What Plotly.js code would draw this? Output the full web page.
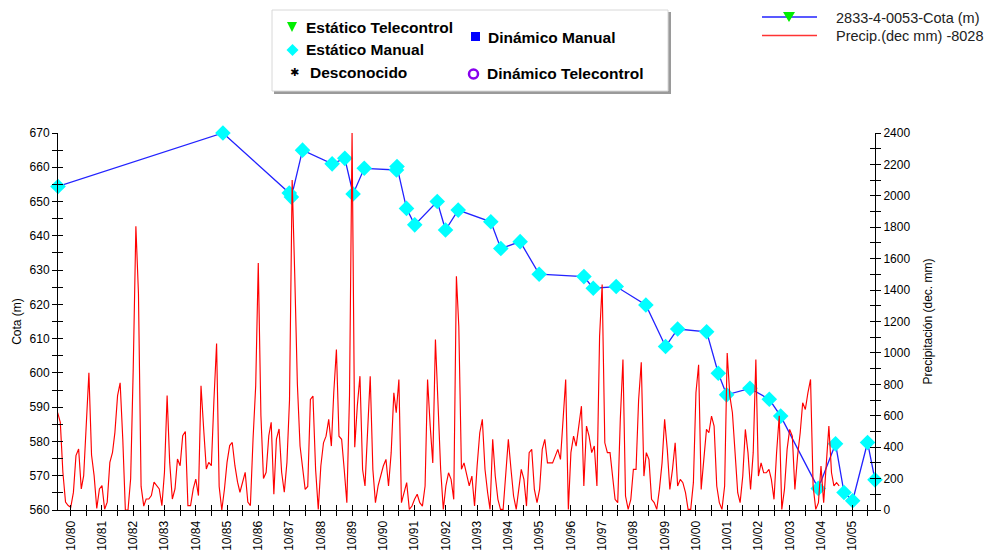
<!DOCTYPE html>
<html>
<head>
<meta charset="utf-8">
<script src="https://cdn.plot.ly/plotly-3.0.1.min.js"></script>
<style>
  html, body { margin: 0; padding: 0; background: #ffffff; }
  #chart { width: 989px; height: 554px; }
</style>
</head>
<body>
<div id="chart"></div>
<script>
// Piezometric level of well 2833-4-0053 (m) — manual static readings
const cotaDates = [
  '1980-05-05', '1985-08-14', '1987-09-28', '1987-10-23', '1988-03-01',
  '1989-02-10', '1989-07-08', '1989-10-13', '1990-02-20', '1991-03-04',
  '1991-03-10', '1991-06-29', '1991-10-03', '1992-06-22', '1992-09-27',
  '1993-02-22', '1994-03-10', '1994-07-05', '1995-02-16', '1995-09-26',
  '1997-03-02', '1997-06-19', '1998-03-14', '1999-02-24', '1999-10-12',
  '2000-03-01', '2001-02-03', '2001-06-19', '2001-09-24', '2002-06-24',
  '2003-02-05', '2003-06-18', '2004-08-30', '2005-03-20', '2005-06-27',
  '2005-10-06', '2006-03-29', '2006-06-24'
];
const cotaValues = [
  654.4, 670.0, 652.5, 651.3, 665.0,
  661.0, 662.6, 652.2, 659.7, 659.2,
  660.2, 648.0, 643.2, 650.0, 641.7,
  647.5, 644.1, 636.3, 638.3, 628.8,
  628.1, 624.7, 625.2, 619.8, 607.7,
  612.8, 612.0, 599.9, 593.6, 595.5,
  592.3, 587.4, 566.3, 579.3, 565.1,
  562.7, 579.7, 568.8
];

// Monthly precipitation at station 8028 (tenths of mm), starting May 1980
const precipStartYear = 1980;
const precipStartMonth = 5;
const precipValues = [
  620, 558, 240, 50, 28, 17, 112, 346, 388, 134,
  219, 537, 873, 350, 219, 10, 134, 155, 5, 50,
  303, 367, 494, 728, 810, 450, 0, 0, 200, 900,
  1806, 1380, 150, 25, 70, 70, 92, 177, 155, 134,
  28, 240, 728, 303, 70, 134, 325, 282, 473, 500,
  28, 28, 134, 197, 92, 791, 516, 261, 303, 282,
  700, 1060, 150, 0, 134, 303, 410, 430, 282, 177,
  113, 177, 240, 50, 28, 452, 790, 1573, 600, 200,
  240, 473, 558, 100, 452, 516, 240, 113, 303, 700,
  2100, 1500, 800, 407, 258, 131, 150, 704, 725, 258,
  4, 280, 428, 470, 577, 407, 746, 1022, 470, 450,
  259, 47, 725, 2400, 400, 661, 852, 258, 153, 534,
  852, 258, 47, 153, 216, 280, 322, 153, 365, 746,
  619, 831, 47, 110, 174, 4, 25, 68, 100, 47,
  25, 153, 831, 534, 300, 1085, 661, 259, 4, 153,
  237, 195, 68, 1488, 1170, 259, 300, 216, 153, 216,
  25, 280, 492, 577, 259, 110, 4, 450, 216, 68,
  4, 4, 259, 450, 259, 89, 4, 131, 259, 195,
  25, 365, 386, 131, 47, 131, 386, 450, 300, 300,
  300, 343, 386, 322, 577, 831, 4, 365, 470, 407,
  534, 661, 153, 534, 470, 365, 407, 153, 1107, 1435,
  428, 365, 365, 195, 68, 47, 577, 958, 89, 4,
  68, 259, 259, 700, 940, 216, 365, 322, 68, 47,
  4, 131, 300, 577, 386, 131, 259, 428, 153, 195,
  174, 110, 4, 4, 174, 746, 925, 131, 300, 513,
  492, 598, 534, 153, 47, 4, 153, 1000, 725, 619,
  365, 110, 47, 216, 513, 365, 131, 365, 958, 216,
  300, 237, 237, 259, 195, 68, 365, 600, 4, 131,
  386, 513, 470, 131, 343, 492, 683, 640, 746, 831,
  153, 4, 47, 280, 47, 259, 534, 237, 153, 174, 153
];

// Month stamps for the precipitation series
const precipDates = precipValues.map((_, i) => {
  const k = precipStartMonth - 1 + i;
  const y = precipStartYear + Math.floor(k / 12);
  const m = (k % 12) + 1;
  return y + '-' + String(m).padStart(2, '0') + '-01';
});

const FONT = '"Liberation Sans", Arial, sans-serif';
const xRange = [cotaDates[0], cotaDates[cotaDates.length - 1]];

// Plot-area geometry helpers for legend decorations (pixels -> paper)
const M = { l: 58, r: 114, t: 133, b: 44 };
const PW = 989 - M.l - M.r, PH = 554 - M.t - M.b;
const px = x => (x - M.l) / PW;
const py = y => (554 - M.b - y) / PH;

const traces = [
  {
    type: 'scatter', mode: 'lines', name: 'Precip.(dec mm) -8028',
    x: precipDates, y: precipValues, xaxis: 'x', yaxis: 'y2',
    line: { color: '#ff0000', width: 1.15 }, showlegend: false, hoverinfo: 'skip'
  },
  {
    type: 'scatter', mode: 'lines+markers', name: '2833-4-0053-Cota (m)',
    x: cotaDates, y: cotaValues, xaxis: 'x', yaxis: 'y',
    line: { color: '#2222ff', width: 1.3 },
    marker: { symbol: 'diamond', size: 12, color: '#00ffff', line: { width: 0 } },
    showlegend: false, cliponaxis: false
  },
  // carriers for the inner half of the crossing tick marks
  { type: 'scatter', x: [], y: [], xaxis: 'x2', yaxis: 'y3', showlegend: false, hoverinfo: 'skip' },
  { type: 'scatter', x: [], y: [], xaxis: 'x2', yaxis: 'y4', showlegend: false, hoverinfo: 'skip' }
];

const tickCommon = {
  showgrid: false, zeroline: false, tickcolor: '#000', ticklen: 5, tickwidth: 1,
  tickfont: { family: FONT, size: 12, color: '#000' }
};

// Legend decorations
const shapes = [
  // symbol box with dropped shadow
  { type: 'rect', xref: 'paper', yref: 'paper', x0: px(274), x1: px(671), y0: py(12), y1: py(94),
    fillcolor: '#9a9a9a', line: { width: 0 }, layer: 'above' },
  { type: 'rect', xref: 'paper', yref: 'paper', x0: px(272), x1: px(668), y0: py(10), y1: py(91),
    fillcolor: '#ffffff', line: { color: '#d8d8d8', width: 1 }, layer: 'above' },
  // Estático Telecontrol: green down triangle
  { type: 'path', xref: 'paper', yref: 'paper', layer: 'above',
    path: `M ${px(287)} ${py(22)} L ${px(297)} ${py(22)} L ${px(292)} ${py(32)} Z`,
    fillcolor: '#00ee00', line: { width: 0 } },
  // Estático Manual: cyan diamond
  { type: 'path', xref: 'paper', yref: 'paper', layer: 'above',
    path: `M ${px(292.5)} ${py(44)} L ${px(298.5)} ${py(50)} L ${px(292.5)} ${py(56)} L ${px(286.5)} ${py(50)} Z`,
    fillcolor: '#00ffff', line: { width: 0 } },
  // Dinámico Manual: blue square
  { type: 'rect', xref: 'paper', yref: 'paper', layer: 'above',
    x0: px(471), x1: px(480), y0: py(32), y1: py(41), fillcolor: '#0000ff', line: { width: 0 } },
  // Dinámico Telecontrol: purple ring
  { type: 'circle', xref: 'paper', yref: 'paper', layer: 'above',
    x0: px(469), x1: px(478), y0: py(69.5), y1: py(78.5), fillcolor: 'rgba(0,0,0,0)',
    line: { color: '#8800ee', width: 2.5 } },
  // series legend: level line with triangle marker
  { type: 'line', xref: 'paper', yref: 'paper', layer: 'above',
    x0: px(762), x1: px(817), y0: py(17), y1: py(17), line: { color: '#2222ff', width: 1.3 } },
  { type: 'path', xref: 'paper', yref: 'paper', layer: 'above',
    path: `M ${px(783)} ${py(12)} L ${px(795)} ${py(12)} L ${px(789)} ${py(22)} Z`,
    fillcolor: '#00ee00', line: { width: 0 } },
  // series legend: precipitation line
  { type: 'line', xref: 'paper', yref: 'paper', layer: 'above',
    x0: px(762), x1: px(817), y0: py(35.5), y1: py(35.5), line: { color: '#ff3333', width: 1.3 } }
];

const legendFont = { family: FONT, size: 15.5, color: '#000', weight: 'bold' };
const ann = (x, y, text, font, anchor) => ({
  xref: 'paper', yref: 'paper', x: px(x), y: py(y), text: text, showarrow: false,
  xanchor: anchor || 'left', yanchor: 'middle', font: font, borderpad: 0
});

const annotations = [
  ann(305, 27, '<b>Estático Telecontrol</b>', legendFont),
  ann(305, 50, '<b>Estático Manual</b>', legendFont),
  ann(294, 72, '✱', { family: '"DejaVu Sans", sans-serif', size: 11, color: '#000' }, 'center'),
  ann(309, 72, '<b>Desconocido</b>', legendFont),
  ann(487, 37, '<b>Dinámico Manual</b>', legendFont),
  ann(486, 74, '<b>Dinámico Telecontrol</b>', legendFont),
  ann(835, 17.5, '2833-4-0053-Cota (m)', { family: FONT, size: 14.5, color: '#222' }),
  ann(835, 36.5, 'Precip.(dec mm) -8028', { family: FONT, size: 14.5, color: '#222' })
];

const layout = {
  width: 989, height: 554,
  margin: M,
  paper_bgcolor: '#ffffff', plot_bgcolor: '#ffffff',
  showlegend: false,
  font: { family: FONT, size: 12, color: '#000' },
  xaxis: Object.assign({}, tickCommon, {
    type: 'date', range: xRange, anchor: 'y',
    showline: true, linecolor: '#000', linewidth: 1,
    ticks: 'outside', tick0: '1980-10-01', dtick: 'M12', tickformat: '%m/%y', tickangle: -90,
    minor: { ticks: 'outside', tick0: '1980-04-01', dtick: 'M6', ticklen: 5, tickcolor: '#000' }
  }),
  xaxis2: Object.assign({}, tickCommon, {
    type: 'date', range: xRange, overlaying: 'x', anchor: 'y', side: 'bottom',
    showline: false, showticklabels: false,
    ticks: 'inside', tick0: '1980-04-01', dtick: 'M6'
  }),
  yaxis: Object.assign({}, tickCommon, {
    range: [560, 670], anchor: 'x', side: 'left',
    showline: true, linecolor: '#000', linewidth: 1,
    ticks: 'outside', tick0: 560, dtick: 10,
    minor: { ticks: 'outside', dtick: 5, ticklen: 5, tickcolor: '#000' },
    title: { text: 'Cota (m)', font: { family: FONT, size: 12, color: '#000' }, standoff: 5 }
  }),
  yaxis2: Object.assign({}, tickCommon, {
    range: [0, 2400], overlaying: 'y', anchor: 'x', side: 'right',
    showline: true, linecolor: '#000', linewidth: 1,
    ticks: 'outside', tick0: 0, dtick: 200,
    minor: { ticks: 'outside', dtick: 100, ticklen: 5, tickcolor: '#000' },
    title: { text: 'Precipitación (dec. mm)', font: { family: FONT, size: 12, color: '#000' }, standoff: 14 }
  }),
  yaxis3: Object.assign({}, tickCommon, {
    range: [560, 670], overlaying: 'y', anchor: 'x', side: 'left',
    showline: false, showticklabels: false, ticks: 'inside', tick0: 560, dtick: 5
  }),
  yaxis4: Object.assign({}, tickCommon, {
    range: [0, 2400], overlaying: 'y', anchor: 'x', side: 'right',
    showline: false, showticklabels: false, ticks: 'inside', tick0: 0, dtick: 100
  }),
  shapes: shapes,
  annotations: annotations
};

Plotly.newPlot('chart', traces, layout, { displayModeBar: false, staticPlot: true });
</script>
</body>
</html>
